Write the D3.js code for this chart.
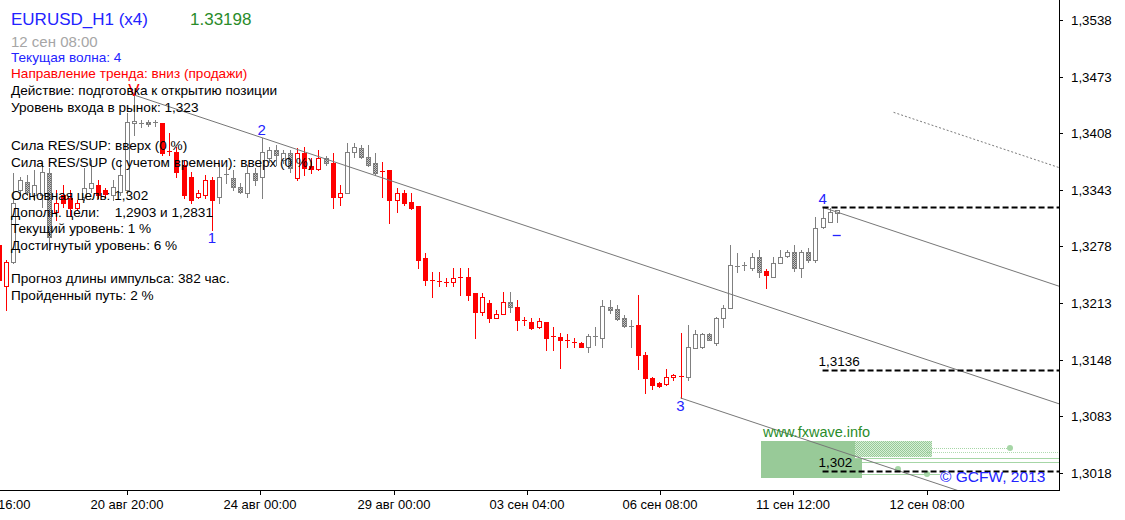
<!DOCTYPE html>
<html>
<head>
<meta charset="utf-8">
<script src="https://cdn.jsdelivr.net/npm/d3@7"></script>
<style>
  html, body { margin: 0; padding: 0; background: #fff; }
  #main { width: 1125px; height: 520px; }
  text { font-family: "Liberation Sans", Arial, sans-serif; white-space: pre; }
</style>
</head>
<body>
<div id="main"></div>
<script>
'use strict';

// EURUSD_H1 (x4) bars, oldest -> newest
var opens = [
  1.3280, 1.3232, 1.3260, 1.3343, 1.3352, 1.3337, 1.3337, 1.3362, 1.3317, 1.3337,
  1.3334, 1.3322, 1.3335, 1.3345, 1.3349, 1.3343, 1.3337, 1.3341, 1.3343, 1.3420,
  1.3419, 1.3421, 1.3420, 1.3420, 1.3388, 1.3386, 1.3372, 1.3358, 1.3335, 1.3337,
  1.3354, 1.3335, 1.3360, 1.3357, 1.3346, 1.3339, 1.3362, 1.3358, 1.3380, 1.3389,
  1.3377, 1.3385, 1.3357, 1.3385, 1.3370, 1.3367, 1.3380, 1.3374, 1.3335, 1.3339,
  1.3386, 1.3391, 1.3381, 1.3374, 1.3365, 1.3366, 1.3331, 1.3339, 1.3329, 1.3324,
  1.3265, 1.3240, 1.3238, 1.3237, 1.3237, 1.3243, 1.3243, 1.3224, 1.3203, 1.3213,
  1.3196, 1.3200, 1.3214, 1.3208, 1.3193, 1.3191, 1.3185, 1.3191, 1.3175, 1.3174,
  1.3170, 1.3168, 1.3167, 1.3163, 1.3174, 1.3173, 1.3208, 1.3206, 1.3196, 1.3187,
  1.3188, 1.3153, 1.3127, 1.3121, 1.3120, 1.3128, 1.3128, 1.3128, 1.3161, 1.3163,
  1.3177, 1.3167, 1.3196, 1.3207, 1.3254, 1.3255, 1.3253, 1.3266, 1.3250, 1.3243,
  1.3259, 1.3267, 1.3272, 1.3253, 1.3272, 1.3262, 1.3300, 1.3306, 1.3316
];
var highs = [
  1.3288, 1.3262, 1.3362, 1.3358, 1.3360, 1.3366, 1.3374, 1.3368, 1.3343, 1.3349,
  1.3343, 1.3331, 1.3368, 1.3377, 1.3354, 1.3345, 1.3354, 1.3377, 1.3431, 1.3452,
  1.3423, 1.3423, 1.3423, 1.3420, 1.3408, 1.3392, 1.3377, 1.3363, 1.3343, 1.3360,
  1.3358, 1.3374, 1.3369, 1.3366, 1.3351, 1.3372, 1.3368, 1.3403, 1.3392, 1.3394,
  1.3389, 1.3389, 1.3391, 1.3392, 1.3380, 1.3389, 1.3382, 1.3385, 1.3349, 1.3397,
  1.3397, 1.3394, 1.3394, 1.3385, 1.3375, 1.3366, 1.3345, 1.3343, 1.3339, 1.3324,
  1.3270, 1.3249, 1.3249, 1.3242, 1.3253, 1.3253, 1.3253, 1.3224, 1.3224, 1.3217,
  1.3205, 1.3226, 1.3226, 1.3217, 1.3197, 1.3196, 1.3196, 1.3191, 1.3185, 1.3179,
  1.3177, 1.3173, 1.3168, 1.3177, 1.3185, 1.3217, 1.3217, 1.3211, 1.3199, 1.3193,
  1.3222, 1.3157, 1.3128, 1.3122, 1.3137, 1.3132, 1.3179, 1.3188, 1.3182, 1.3179,
  1.3179, 1.3197, 1.3211, 1.3280, 1.3270, 1.3260, 1.3270, 1.3274, 1.3252, 1.3266,
  1.3274, 1.3274, 1.3280, 1.3274, 1.3276, 1.3312, 1.3323, 1.3322, 1.3320
];
var lows = [
  1.3232, 1.3205, 1.3259, 1.3337, 1.3337, 1.3331, 1.3323, 1.3274, 1.3308, 1.3323,
  1.3314, 1.3320, 1.3331, 1.3341, 1.3334, 1.3335, 1.3331, 1.3337, 1.3337, 1.3406,
  1.3415, 1.3416, 1.3416, 1.3383, 1.3383, 1.3358, 1.3334, 1.3328, 1.3334, 1.3334,
  1.3297, 1.3328, 1.3351, 1.3343, 1.3339, 1.3335, 1.3349, 1.3334, 1.3375, 1.3372,
  1.3374, 1.3363, 1.3354, 1.3360, 1.3362, 1.3366, 1.3372, 1.3322, 1.3326, 1.3339,
  1.3381, 1.3380, 1.3370, 1.3360, 1.3335, 1.3305, 1.3317, 1.3326, 1.3321, 1.3253,
  1.3234, 1.3220, 1.3232, 1.3232, 1.3232, 1.3222, 1.3217, 1.3173, 1.3199, 1.3191,
  1.3196, 1.3200, 1.3203, 1.3182, 1.3188, 1.3183, 1.3184, 1.3159, 1.3159, 1.3138,
  1.3163, 1.3163, 1.3162, 1.3157, 1.3165, 1.3163, 1.3202, 1.3193, 1.3186, 1.3163,
  1.3137, 1.3110, 1.3114, 1.3117, 1.3119, 1.3125, 1.3104, 1.3125, 1.3161, 1.3161,
  1.3170, 1.3165, 1.3185, 1.3207, 1.3249, 1.3251, 1.3251, 1.3243, 1.3230, 1.3243,
  1.3259, 1.3266, 1.3250, 1.3243, 1.3260, 1.3260, 1.3299, 1.3306, 1.3306
];
var closes = [
  1.3240, 1.3260, 1.3328, 1.3354, 1.3341, 1.3349, 1.3363, 1.3289, 1.3328, 1.3328,
  1.3322, 1.3328, 1.3345, 1.3351, 1.3337, 1.3338, 1.3346, 1.3360, 1.3421, 1.3422,
  1.3420, 1.3419, 1.3421, 1.3385, 1.3386, 1.3363, 1.3337, 1.3331, 1.3339, 1.3354,
  1.3331, 1.3358, 1.3361, 1.3346, 1.3341, 1.3362, 1.3354, 1.3386, 1.3389, 1.3383,
  1.3385, 1.3368, 1.3385, 1.3368, 1.3367, 1.3380, 1.3374, 1.3335, 1.3339, 1.3386,
  1.3392, 1.3381, 1.3372, 1.3362, 1.3363, 1.3331, 1.3339, 1.3328, 1.3322, 1.3262,
  1.3240, 1.3238, 1.3237, 1.3236, 1.3242, 1.3243, 1.3222, 1.3203, 1.3220, 1.3196,
  1.3200, 1.3214, 1.3208, 1.3193, 1.3192, 1.3184, 1.3192, 1.3173, 1.3174, 1.3171,
  1.3169, 1.3167, 1.3163, 1.3175, 1.3175, 1.3210, 1.3205, 1.3195, 1.3187, 1.3186,
  1.3153, 1.3127, 1.3119, 1.3118, 1.3128, 1.3130, 1.3129, 1.3163, 1.3177, 1.3177,
  1.3171, 1.3196, 1.3207, 1.3257, 1.3255, 1.3257, 1.3266, 1.3249, 1.3245, 1.3259,
  1.3266, 1.3272, 1.3253, 1.3272, 1.3262, 1.3299, 1.3311, 1.3317, 1.33198
];
// r = bar painted by the wave indicator, g = plain bar
var tints = ('rr' + 'gggggg' + 'rrrr' + 'gg' + 'rr' + 'ggggggg' + 'rrrrrrrr' + 'ggggggggggg' +
  'rrrr' + 'g' + 'rr' + 'ggggg' + 'rrrrrrrrrrrrrrrrrr' + 'g' + 'rrrrrrrrrr' + 'ggggggg' +
  'rrrrrrr' + 'ggggggggggg' + 'r' + 'gggggggggg').split('');

// axes
var priceTicks = [1.3538, 1.3473, 1.3408, 1.3343, 1.3278, 1.3213, 1.3148, 1.3083, 1.3018];
var timeTickBars = [-0.65, 18.1, 36.8, 55.6, 74.4, 93.1, 111.9, 130.7];
var timeTickLabels = ['19 авг 16:00', '20 авг 20:00', '24 авг 00:00', '29 авг 00:00',
  '03 сен 04:00', '06 сен 08:00', '11 сен 12:00', '12 сен 08:00'];

// wave marks
var waveBars = [19, 30, 37, 96, 116];
var waveNames = ['V', '1', '2', '3', '4'];
var waveSides = ['high', 'low', 'high', 'low', 'high'];

// channel: slope from V and 2, copies from 3 and 4, dotted target line
var channelStarts = [[19, 1.3452], [96, 1.3104], [116, 1.3323]];
var dottedStart = [126, 1.3432];

// horizontal levels
var levelPrices = [1.3323, 1.3136, 1.302];
var levelLabels = ['', '1,3136', '1,302'];
var levelFromBar = 116;

var headSymbol = 'EURUSD_H1 (x4)';
var headPrice = '1.33198';
var headTime = '12 сен 08:00';
var infoLines = [
  'Текущая волна: 4',
  'Направление тренда: вниз (продажи)',
  'Действие: подготовка к открытию позиции',
  'Уровень входа в рынок: 1,323',
  'Сила RES/SUP: вверх (0 %)',
  'Сила RES/SUP (с учетом времени): вверх (0 %)',
  'Основная цель: 1,302',
  'Дополн. цели:    1,2903 и 1,2831',
  'Текущий уровень: 1 %',
  'Достигнутый уровень: 6 %',
  'Прогноз длины импульса: 382 час.',
  'Пройденный путь: 2 %'
];

var W = 1125, H = 520;
var plotR = 1059, plotB = 490;
var svg = d3.select('#main').append('svg').attr('width', W).attr('height', H);

var x = d3.scaleLinear().domain([0, 149.3]).range([-1.1, plotR]);
var y = d3.scaleLinear().domain([1.3561, 1.29983]).range([0, plotB]);

var RED = '#ff0000', GRAY = '#808080', BLUE = '#2323ff';

var defs = svg.append('defs');
defs.append('clipPath').attr('id', 'plot')
  .append('rect').attr('width', plotR).attr('height', plotB);

function dither(id, back, dot) {
  var p = defs.append('pattern').attr('id', id)
    .attr('width', 2).attr('height', 2).attr('patternUnits', 'userSpaceOnUse');
  p.append('rect').attr('width', 2).attr('height', 2).attr('fill', back);
  p.append('rect').attr('width', 1).attr('height', 1).attr('fill', dot);
  p.append('rect').attr('x', 1).attr('y', 1).attr('width', 1).attr('height', 1).attr('fill', dot);
}
dither('grayDither', '#c4c4c4', '#666666');
dither('greenDither', '#d8eed8', '#98ca98');

var plot = svg.append('g').attr('clip-path', 'url(#plot)');

// fxwave logo block (behind everything)
var logo = plot.append('g');
logo.append('rect').attr('x', 761).attr('y', 441).attr('width', 94).attr('height', 37).attr('fill', '#98ca98');
logo.append('rect').attr('x', 855).attr('y', 459).attr('width', 7).attr('height', 19).attr('fill', '#98ca98');
logo.append('rect').attr('x', 855).attr('y', 441).attr('width', 77).attr('height', 16).attr('fill', 'url(#greenDither)');
logo.append('line').attr('x1', 932).attr('x2', 1007).attr('y1', 448.5).attr('y2', 448.5)
  .attr('stroke', '#a6d6a6').attr('stroke-dasharray', '1,1');
logo.append('circle').attr('cx', 1010).attr('cy', 448).attr('r', 3).attr('fill', '#a6d6a6');
logo.append('line').attr('x1', 927).attr('x2', plotR).attr('y1', 452.5).attr('y2', 452.5)
  .attr('stroke', '#b0dcb0').attr('stroke-dasharray', '1,1');
logo.append('line').attr('x1', 855).attr('x2', plotR).attr('y1', 458.5).attr('y2', 458.5).attr('stroke', '#a6d6a6');
logo.append('line').attr('x1', 862).attr('x2', plotR).attr('y1', 462.5).attr('y2', 462.5).attr('stroke', '#a6d6a6');
logo.append('line').attr('x1', 862).attr('x2', 940).attr('y1', 474.5).attr('y2', 474.5).attr('stroke', '#a6d6a6');
logo.append('circle').attr('cx', 898).attr('cy', 469).attr('r', 3).attr('fill', '#a6d6a6');
logo.append('circle').attr('cx', 927).attr('cy', 474).attr('r', 3).attr('fill', '#a6d6a6');
svg.append('text').attr('x', 763).attr('y', 437).attr('font-size', 14.5)
  .attr('fill', '#2a8c2a').text('www.fxwave.info');

// candles
var bars = opens.map(function(o, i) {
  return { i: i, o: o, h: highs[i], l: lows[i], c: closes[i], t: tints[i] };
});

var candles = plot.append('g').attr('shape-rendering', 'crispEdges');
var bar = candles.selectAll('g').data(bars).enter().append('g');

bar.append('line')
  .attr('x1', function(d) { return Math.round(x(d.i)) + 0.5; })
  .attr('x2', function(d) { return Math.round(x(d.i)) + 0.5; })
  .attr('y1', function(d) { return Math.round(y(d.h)); })
  .attr('y2', function(d) { return Math.round(y(d.l)) + 1; })
  .attr('stroke', function(d) { return d.t === 'r' ? RED : GRAY; });

bar.each(function(d) {
  var g = d3.select(this);
  var cx = Math.round(x(d.i));
  var top = Math.round(y(Math.max(d.o, d.c)));
  var bot = Math.round(y(Math.min(d.o, d.c)));
  var col = d.t === 'r' ? RED : GRAY;
  if (bot - top < 2) {
    g.append('line')
      .attr('x1', cx - 2).attr('x2', cx + 3)
      .attr('y1', top + 0.5).attr('y2', top + 0.5)
      .attr('stroke', col);
    return;
  }
  var fill = 'white';
  if (d.c < d.o) fill = d.t === 'r' ? RED : 'url(#grayDither)';
  g.append('rect')
    .attr('x', cx - 1.5).attr('y', top + 0.5)
    .attr('width', 4).attr('height', bot - top)
    .attr('fill', fill).attr('stroke', col);
});

// channel lines
var slope = (highs[37] - highs[19]) / (37 - 19);
var lastBar = 150;
plot.selectAll('line.chan').data(channelStarts).enter().append('line')
  .attr('class', 'chan')
  .attr('x1', function(d) { return x(d[0]); })
  .attr('y1', function(d) { return y(d[1]); })
  .attr('x2', x(lastBar))
  .attr('y2', function(d) { return y(d[1] + slope * (lastBar - d[0])); })
  .attr('stroke', '#777').attr('stroke-width', 1);

plot.append('line')
  .attr('x1', x(dottedStart[0])).attr('y1', y(dottedStart[1]))
  .attr('x2', x(lastBar)).attr('y2', y(dottedStart[1] + slope * (lastBar - dottedStart[0])))
  .attr('stroke', '#7a7a7a').attr('stroke-dasharray', '2,2');

// levels
var lv = plot.selectAll('g.level').data(levelPrices).enter().append('g').attr('class', 'level');
lv.append('line')
  .attr('x1', x(levelFromBar)).attr('x2', plotR)
  .attr('y1', function(d) { return Math.round(y(d)) + 0.5; })
  .attr('y2', function(d) { return Math.round(y(d)) + 0.5; })
  .attr('stroke', '#000').attr('stroke-width', 2).attr('stroke-dasharray', '6,3');
svg.selectAll('text.lvl').data(levelPrices).enter().append('text')
  .attr('class', 'lvl')
  .attr('x', x(levelFromBar) - 4)
  .attr('y', function(d) { return Math.round(y(d)) - 4; })
  .attr('font-size', 13.5).attr('fill', '#000')
  .text(function(d, i) { return levelLabels[i]; });

// wave marks
svg.selectAll('text.wave').data(waveBars).enter().append('text')
  .attr('class', 'wave')
  .attr('x', function(d) { return x(d); })
  .attr('y', function(d, i) {
    if (waveNames[i] === 'V') return y(highs[d]) + 1;
    return waveSides[i] === 'high' ? y(highs[d]) - 3 : y(lows[d]) + 13;
  })
  .attr('text-anchor', 'middle')
  .attr('font-size', function(d, i) { return waveNames[i] === 'V' ? 17 : 15; })
  .attr('fill', function(d, i) { return waveNames[i] === 'V' ? RED : BLUE; })
  .text(function(d, i) { return waveNames[i]; });
svg.append('line')
  .attr('x1', x(118) - 4).attr('x2', x(118) + 4)
  .attr('y1', 235.5).attr('y2', 235.5)
  .attr('stroke', BLUE).attr('stroke-width', 1.3);

// axes frame
svg.append('line').attr('x1', plotR + 0.5).attr('x2', plotR + 0.5).attr('y1', 0).attr('y2', plotB + 1)
  .attr('stroke', '#000');
svg.append('line').attr('x1', 0).attr('x2', plotR + 1).attr('y1', plotB + 0.5).attr('y2', plotB + 0.5)
  .attr('stroke', '#000');

var yAxis = svg.append('g').selectAll('g').data(priceTicks).enter().append('g')
  .attr('transform', function(d) { return 'translate(0,' + Math.round(y(d)) + ')'; });
yAxis.append('line').attr('x1', plotR).attr('x2', plotR + 4).attr('y1', 0.5).attr('y2', 0.5).attr('stroke', '#000');
yAxis.append('text').attr('x', 1071).attr('y', 5).attr('font-size', 13.3).attr('fill', '#000')
  .text(function(d) { return d3.format('.4f')(d).replace('.', ','); });

var xAxis = svg.append('g').selectAll('g').data(timeTickBars).enter().append('g')
  .attr('transform', function(d) { return 'translate(' + Math.round(x(d)) + ',0)'; });
xAxis.append('line').attr('x1', 0.5).attr('x2', 0.5).attr('y1', plotB).attr('y2', plotB + 5).attr('stroke', '#000');
xAxis.append('text').attr('x', 0).attr('y', 509).attr('text-anchor', 'middle')
  .attr('font-size', 13).attr('fill', '#000')
  .text(function(d, i) { return timeTickLabels[i]; });

// header and info block
svg.append('text').attr('x', 11).attr('y', 25).attr('font-size', 17).attr('fill', BLUE).text(headSymbol);
svg.append('text').attr('x', 190).attr('y', 25).attr('font-size', 17).attr('fill', '#2a8c2a').text(headPrice);
svg.append('text').attr('x', 11).attr('y', 47).attr('font-size', 15).attr('fill', '#a6a6a6').text(headTime);

var infoY = [62, 78, 95, 112, 150, 167, 200, 217, 233, 250, 283, 300];
var infoColors = [BLUE, RED];
svg.selectAll('text.info').data(infoLines).enter().append('text')
  .attr('class', 'info')
  .attr('x', 11)
  .attr('y', function(d, i) { return infoY[i]; })
  .attr('font-size', 13.6)
  .attr('fill', function(d, i) { return infoColors[i] || '#000'; })
  .text(function(d) { return d; });

svg.append('text').attr('x', 940).attr('y', 482).attr('font-size', 15.5).attr('fill', BLUE).text('© GCFW, 2013');
</script>
</body>
</html>
